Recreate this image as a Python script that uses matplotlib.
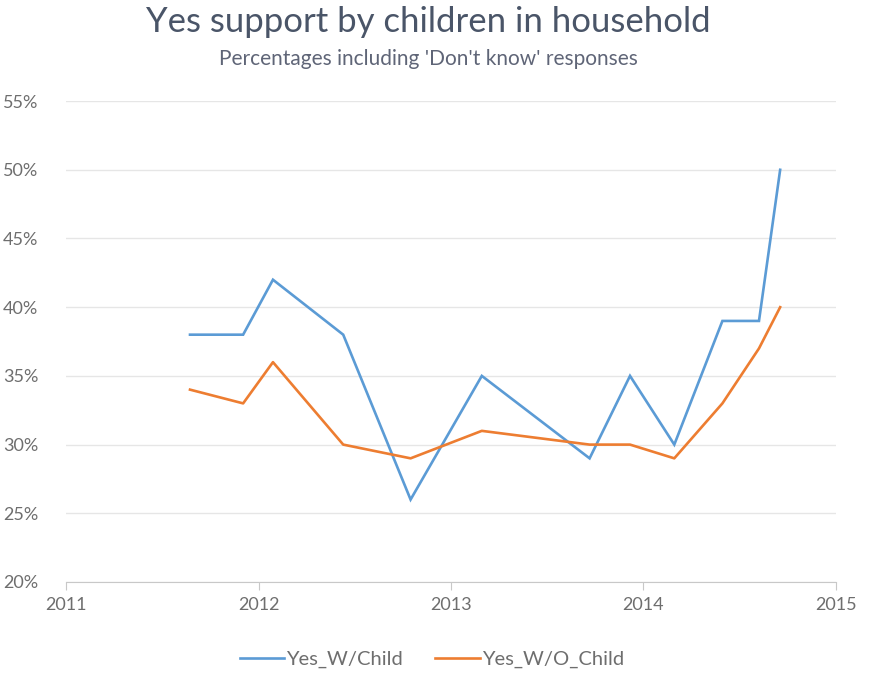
import matplotlib.pyplot as plt
from matplotlib.ticker import FuncFormatter

plt.rcParams["font.family"] = ["Lato", "DejaVu Sans"]

# Poll dates (decimal years) and Yes share, %
dates = [2011.644, 2011.92, 2012.075, 2012.44, 2012.79, 2013.16,
         2013.72, 2013.93, 2014.16, 2014.41, 2014.60, 2014.71]
yes_with_child = [38, 38, 42, 38, 26, 35, 29, 35, 30, 39, 39, 50]
yes_without_child = [34, 33, 36, 30, 29, 31, 30, 30, 29, 33, 37, 40]

year_ticks = [2011, 2012, 2013, 2014, 2015]
pct_ticks = [20, 25, 30, 35, 40, 45, 50, 55]

fig = plt.figure(figsize=(8.69, 6.74), dpi=100)
ax = fig.add_axes([0.076, 0.1365, 0.886, 0.7135])

ax.plot(dates, yes_with_child, color="#5B9BD5", linewidth=1.9,
        label="Yes_W/Child", solid_joinstyle="miter")
ax.plot(dates, yes_without_child, color="#ED7D31", linewidth=1.9,
        label="Yes_W/O_Child", solid_joinstyle="round")

ax.set_xlim(2011, 2015)
ax.set_ylim(20, 55)
ax.set_xticks(year_ticks)
ax.set_yticks(pct_ticks)
ax.yaxis.set_major_formatter(FuncFormatter(lambda v, p: f"{v:.0f}%"))

ax.grid(axis="y", color="#E6E6E6", linewidth=1.0)
ax.set_axisbelow(True)
for side in ["top", "right", "left"]:
    ax.spines[side].set_visible(False)
ax.spines["bottom"].set_color("#C8C8C8")
ax.tick_params(axis="y", length=0, pad=20, labelsize=13, labelcolor="#6E6E6E")
ax.tick_params(axis="x", length=6, color="#C8C8C8", pad=5,
               labelsize=13, labelcolor="#6E6E6E")

fig.text(0.493, 0.968, "Yes support by children in household",
         ha="center", va="center", fontsize=25, color="#4A5568")
fig.text(0.493, 0.913, "Percentages including 'Don't know' responses",
         ha="center", va="center", fontsize=15, color="#5F6577")

fig.legend(loc="center", bbox_to_anchor=(0.497, 0.022), ncol=2, frameon=False,
           fontsize=14.5, labelcolor="#6E6E6E", handlelength=2.2,
           handletextpad=0.1, columnspacing=1.6)

fig.savefig("out.png", dpi=100)
